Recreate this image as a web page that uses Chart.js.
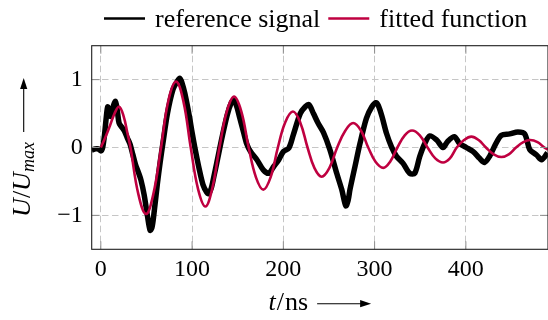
<!DOCTYPE html>
<html><head><meta charset="utf-8">
<script src="https://cdn.jsdelivr.net/npm/chart.js@4"></script>
<style>html,body{margin:0;padding:0;background:#fff;}</style>
</head><body>
<canvas id="c" width="548" height="320"></canvas>
<script>
// ---- data ----
const xTicks = [0, 100, 200, 300, 400];
const yTicks = [-1, 0, 1];
const seriesNames = ['reference signal', 'fitted function'];

const refT = [-10,-6,-3,0,2,4,6,7.5,9,10.5,13,16,18,20,23,26,29,32,35,38,41,44,47.5,51,54,56,58,62,65,68,73,79,84,86.5,89,92,97,100,103,108,112,116,118,121,124,127,133,138.5,143,146,149,152,156.5,160,164,171,178,184,189.5,195,200,206,211,218.5,224,228,233,238,244,251,258.5,264,268.5,271,273,278.5,284,291,297,301.5,304,308,313,318.5,324,331,338.5,344,349.5,355,360.5,368,375,380,387.5,393,400.5,408,415,420.5,426,433,439,448,457,464.5,470,477.5,483,489.5];
const refU = [-0.04,-0.02,-0.02,-0.05,0.00,0.18,0.45,0.60,0.52,0.46,0.58,0.68,0.55,0.36,0.30,0.24,0.14,0.05,-0.10,-0.25,-0.36,-0.48,-0.70,-1.00,-1.22,-1.18,-1.00,-0.53,-0.22,0.06,0.50,0.85,0.98,1.02,0.95,0.80,0.46,0.22,0.00,-0.33,-0.55,-0.66,-0.68,-0.60,-0.42,-0.23,0.16,0.48,0.66,0.70,0.60,0.45,0.22,0.05,-0.06,-0.18,-0.33,-0.38,-0.28,-0.18,-0.06,-0.01,0.19,0.50,0.60,0.63,0.50,0.36,0.22,-0.03,-0.38,-0.62,-0.86,-0.78,-0.62,-0.28,0.06,0.43,0.60,0.66,0.62,0.46,0.21,0.01,-0.13,-0.23,-0.38,-0.38,-0.13,0.06,0.17,0.11,0.00,0.09,0.16,0.06,0.00,-0.06,-0.16,-0.22,-0.13,0.06,0.18,0.20,0.23,0.20,-0.03,-0.11,-0.18,-0.08];

const fitT = [0,5,10,15,20,25,29,32.5,41,49.5,57.5,66,74,82.5,90.5,98.5,106.5,114.5,122,130,138,146,154,162,170,178,186,194,202,210.5,218.5,226.5,234,242,250.5,259,268,276.5,285,293,301,309.5,317,325,333,341,349.5,358,366.5,375,382.5,390,398,406,414,422,430.5,439,447,455,463,470.5,478.5,486,490];
const fitU = [0,0.15,0.32,0.50,0.60,0.46,0.22,0,-0.68,-0.98,-0.69,0,0.69,0.97,0.68,0,-0.61,-0.87,-0.61,0,0.53,0.75,0.53,0,-0.44,-0.62,-0.44,0,0.37,0.53,0.37,0,-0.30,-0.43,-0.30,0,0.25,0.36,0.25,0,-0.21,-0.30,-0.21,0,0.18,0.25,0.18,0,-0.16,-0.22,-0.16,0,0.11,0.16,0.11,0,-0.10,-0.14,-0.10,0,0.08,0.11,0.08,0,-0.03];

// ---- styling ----
const BLACK = '#000000';
const RED = '#BF0040';
const FONT = '"Liberation Serif", "Times New Roman", serif';
const FS = 24;   // tick labels
const FT = 26;   // titles / legend

const pts = (t, u) => t.map((v, i) => ({x: v, y: u[i]}));

const deco = {
  id: 'deco',
  afterDraw(ch) {
    const ctx = ch.ctx, a = ch.chartArea, xs = ch.scales.x, ys = ch.scales.y;
    ctx.save();
    const line = (x1, y1, x2, y2) => { ctx.beginPath(); ctx.moveTo(x1, y1); ctx.lineTo(x2, y2); ctx.stroke(); };
    // tick marks (inside)
    const TL = 8;
    ctx.strokeStyle = '#8c8c8c'; ctx.lineWidth = 1;
    xTicks.forEach(v => { const p = xs.getPixelForValue(v); line(p, a.bottom, p, a.bottom - TL); line(p, a.top, p, a.top + TL); });
    yTicks.forEach(v => { const p = ys.getPixelForValue(v); line(a.left, p, a.left + TL, p); line(a.right, p, a.right - TL, p); });
    // frame
    ctx.strokeStyle = '#1e1e1e'; ctx.lineWidth = 1.1;
    ctx.strokeRect(a.left, a.top, a.right - a.left, a.bottom - a.top);

    // arrow helper (along +x in current frame)
    const arrow = (x0, y, len) => {
      ctx.strokeStyle = '#000'; ctx.fillStyle = '#000'; ctx.lineWidth = 1.1;
      line(x0, y, x0 + len - 8, y);
      ctx.beginPath(); ctx.moveTo(x0 + len, y); ctx.lineTo(x0 + len - 11, y - 3.6); ctx.lineTo(x0 + len - 11, y + 3.6); ctx.closePath(); ctx.fill();
    };
    ctx.fillStyle = '#000'; ctx.textBaseline = 'alphabetic'; ctx.textAlign = 'left';
    const fIt = `italic ${FT}px ${FONT}`, fUp = `${FT}px ${FONT}`, fSub = `italic 18px ${FONT}`;
    const w = (t, f) => { ctx.font = f; return ctx.measureText(t).width; };

    // x title: t/ns ->
    {
      const parts = [['t', fIt, 0], ['/', fUp, 0], ['ns', fUp, 0]];
      const gap = 9, alen = 54;
      let tw = parts.reduce((s, p) => s + w(p[0], p[1]), 0) + 2;
      let x = (a.left + a.right) / 2 - (tw + gap + alen) / 2;
      const base = 309.5;
      parts.forEach(p => { ctx.font = p[1]; ctx.fillText(p[0], x, base + p[2]); x += ctx.measureText(p[0]).width + (p[0] === 't' || p[0] === '/' ? 1 : 0); });
      arrow(x + gap, base - 5.8, alen);
    }
    // y title: U/U_max -> (rotated)
    {
      ctx.save();
      const cy = (a.top + a.bottom) / 2;
      ctx.translate(29.5, cy);
      ctx.rotate(-Math.PI / 2);
      const parts = [['U', fIt, 0], ['/', fUp, 0], ['U', fIt, 0], ['max', fSub, 4.5]];
      const gap = 10, alen = 54;
      let tw = parts.reduce((s, p) => s + w(p[0], p[1]), 0);
      let x = -(tw + gap + alen) / 2;
      parts.forEach(p => { ctx.font = p[1]; ctx.fillText(p[0], x, p[2]); x += ctx.measureText(p[0]).width; });
      arrow(x + gap, -5.8, alen);
      ctx.restore();
    }
    // legend
    {
      const ly = 18.5, base = 26.5;
      let x = 104;
      const items = [[seriesNames[0], BLACK, 2.6], [seriesNames[1], RED, 2.6]];
      items.forEach((it, i) => {
        ctx.strokeStyle = it[1]; ctx.lineWidth = it[2];
        line(x, ly, x + 41, ly);
        x += 41 + 10;
        ctx.font = fUp; ctx.fillStyle = '#000';
        ctx.fillText(it[0], x, base);
        x += ctx.measureText(it[0]).width + 8;
      });
    }
    ctx.restore();
  }
};

const fmt = v => (v < 0 ? '\u2212' + Math.abs(v) : String(v));

new Chart(document.getElementById('c'), {
  type: 'line',
  data: {
    datasets: [
      { label: seriesNames[1], data: pts(fitT, fitU), borderColor: RED, borderWidth: 2.6, pointRadius: 0, tension: 0.4, order: 0 },
      { label: seriesNames[0], data: pts(refT, refU), borderColor: BLACK, borderWidth: 5.5, pointRadius: 0, tension: 0.3, order: 1, borderJoinStyle: 'round' }
    ]
  },
  options: {
    responsive: false, animation: false, devicePixelRatio: 1,
    layout: { padding: { top: 45.7, left: 0, right: 0, bottom: 0 } },
    plugins: { legend: { display: false }, tooltip: { enabled: false } },
    scales: {
      x: {
        type: 'linear', min: -10, max: 490,
        afterBuildTicks: s => { s.ticks = xTicks.map(v => ({ value: v })); },
        grid: { color: '#c6c6c6', lineWidth: 1, drawTicks: false },
        border: { display: false, dash: [6.5, 3.5] },
        ticks: { font: { family: FONT, size: FS }, color: '#000', padding: 6, maxRotation: 0, autoSkip: false, callback: fmt },
        afterFit: s => { s.height = 320 - 249.3; }
      },
      y: {
        type: 'linear', min: -1.5, max: 1.5,
        afterBuildTicks: s => { s.ticks = yTicks.map(v => ({ value: v })); },
        grid: { color: '#c6c6c6', lineWidth: 1, drawTicks: false },
        border: { display: false, dash: [6.5, 3.5] },
        ticks: { font: { family: FONT, size: FS }, color: '#000', padding: 9, autoSkip: false, callback: fmt },
        afterFit: s => { s.width = 91.7; }
      }
    }
  },
  plugins: [deco]
});
</script>
</body></html>
